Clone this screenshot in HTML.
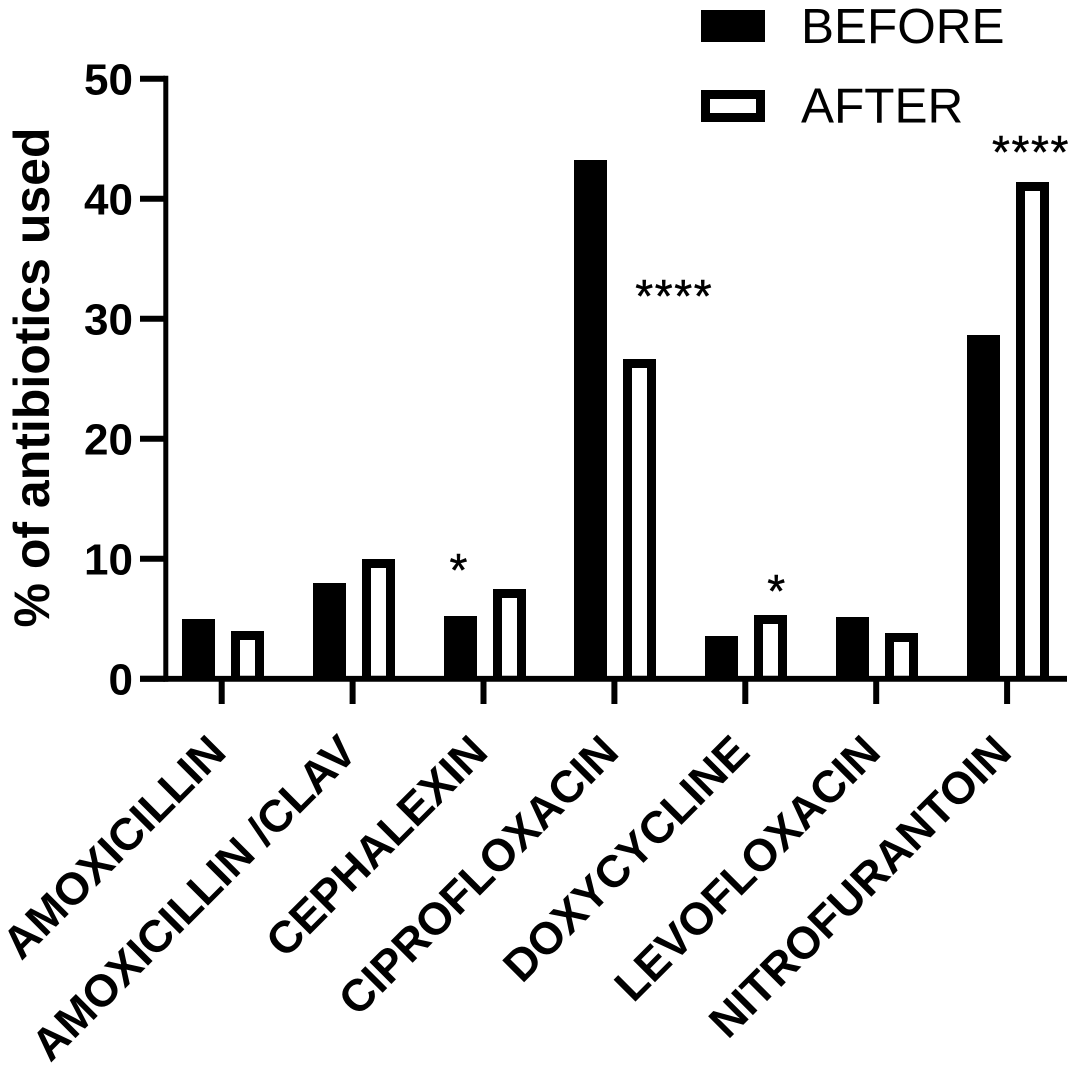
<!DOCTYPE html>
<html lang="en">
<head>
<meta charset="utf-8">
<title>Antibiotics used before and after</title>
<style>
html,body{margin:0;padding:0;background:#fff;}
svg{display:block;}
text{font-family:"Liberation Sans",sans-serif;fill:#000;}
</style>
</head>
<body>
<svg id="chart" width="1075" height="1072" viewBox="0 0 1075 1072" xmlns="http://www.w3.org/2000/svg"></svg>
<script>
const categories = ["AMOXICILLIN", "AMOXICILLIN /CLAV", "CEPHALEXIN", "CIPROFLOXACIN", "DOXYCYCLINE", "LEVOFLOXACIN", "NITROFURANTOIN"];
const beforeValues = [4.98, 7.98, 5.23, 43.2, 3.57, 5.15, 28.65];
const afterValues = [3.98, 9.98, 7.48, 26.65, 5.32, 3.8, 41.4];
const significance = ["", "", "*", "****", "*", "", "****"];
const yTicks = [0, 10, 20, 30, 40, 50];
const seriesNames = ["BEFORE", "AFTER"];
const axisTitle = "% of antibiotics used";

const svg = document.getElementById('chart');
const NS = 'http://www.w3.org/2000/svg';
function add(tag, attrs, parent) {
  const el = document.createElementNS(NS, tag);
  for (const k in attrs) el.setAttribute(k, attrs[k]);
  (parent || svg).appendChild(el);
  return el;
}
const Y0 = 678.8, PX_PER_UNIT = 12;
const X0 = 221.7, STEP = 130.9;
const BAR_W = 33, STROKE = 9;
const yScale = v => Y0 - v * PX_PER_UNIT;
const xCenter = i => X0 + i * STEP;
const markerDx = {2: -24.2, 3: 59.8, 4: 31.7, 6: 23.9};
const markerDy = {2: -3, 3: -47, 4: -8, 6: -14};

categories.forEach((name, i) => {
  const cx = xCenter(i);
  const bx = Math.round(cx - 40);
  const by = Math.round(yScale(beforeValues[i]));
  const b = add('rect', {x: bx, y: by, width: BAR_W, height: Y0 - by, fill: '#000'});
  
  
  const ax = Math.round(cx + 9);
  const ay = Math.round(yScale(afterValues[i]));
  const a = add('rect', {x: ax, y: ay, width: BAR_W, height: Y0 - ay, fill: '#000'});
  
  
  const inner = add('rect', {x: ax + STROKE, y: ay + STROKE, width: BAR_W - 2 * STROKE, height: Math.max(0, Y0 - 3 - ay - STROKE), fill: '#fff'});
  
  
  if (significance[i]) {
    const s = add('text', {x: cx + markerDx[i], y: ay + markerDy[i], 'font-size': 46, 'letter-spacing': 1.6, 'text-anchor': 'middle', stroke: '#000', 'stroke-width': 0.5});
    s.textContent = significance[i];
    
    
  }
});

const yAxis = add('line', {x1: 165.8, y1: yScale(50) - 3, x2: 165.8, y2: Y0 + 3, stroke: '#000', 'stroke-width': 5});


const xAxis = add('line', {x1: 140, y1: Y0, x2: 1067, y2: Y0, stroke: '#000', 'stroke-width': 5.8});



yTicks.forEach(v => {
  const y = yScale(v);
  const t = add('line', {x1: 140, y1: y, x2: 165, y2: y, stroke: '#000', 'stroke-width': 6});
  
  
  const l = add('text', {x: 133, y: y + 15.5, 'font-size': 44, 'font-weight': 700, 'text-anchor': 'end'});
  l.textContent = v;
  
  
});

categories.forEach((name, i) => {
  const cx = xCenter(i);
  const t = add('line', {x1: cx, y1: Y0, x2: cx, y2: 704, stroke: '#000', 'stroke-width': 6});
  
  
  const lx = cx + 6.5, ly = 754.5;
  const l = add('text', {x: lx, y: ly, 'font-size': 45, 'font-weight': 700, 'text-anchor': 'end', transform: `rotate(-45 ${lx} ${ly})`});
  l.textContent = name;
  
  
});

const title = add('text', {x: 49, y: 377.5, 'font-size': 50, 'font-weight': 700, 'text-anchor': 'middle', transform: 'rotate(-90 49 377.5)'});
title.textContent = axisTitle;



const sw1 = add('rect', {x: 701, y: 10, width: 64, height: 32, fill: '#000'});


const lt1 = add('text', {x: 801, y: 43, 'font-size': 49.5});
lt1.textContent = seriesNames[0];


const sw2 = add('rect', {x: 705.5, y: 94.5, width: 55, height: 23, fill: '#fff', stroke: '#000', 'stroke-width': 9});


const lt2 = add('text', {x: 801, y: 122.5, 'font-size': 49.5});
lt2.textContent = seriesNames[1];


</script>
</body>
</html>
